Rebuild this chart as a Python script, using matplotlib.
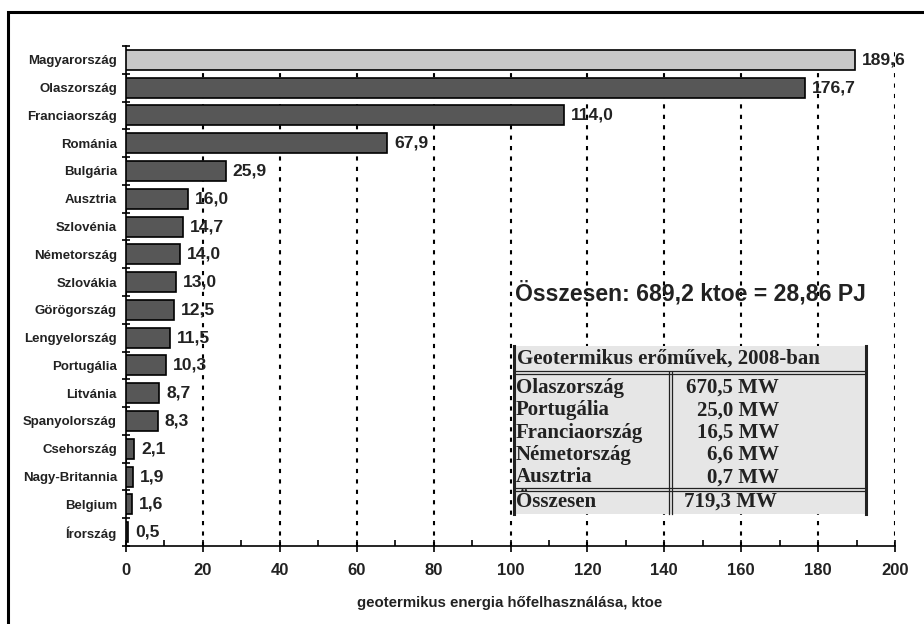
import matplotlib
matplotlib.use('Agg')
import numpy as np
import matplotlib.pyplot as plt
from matplotlib.patches import Rectangle
from matplotlib.ticker import MultipleLocator, FixedLocator

# country values, ktoe
countries = ['Magyarország', 'Olaszország', 'Franciaország', 'Románia', 'Bulgária',
             'Ausztria', 'Szlovénia', 'Németország', 'Szlovákia', 'Görögország',
             'Lengyelország', 'Portugália', 'Litvánia', 'Spanyolország', 'Csehország',
             'Nagy-Britannia', 'Belgium', 'Írország']
values = [189.6, 176.7, 114.0, 67.9, 25.9, 16.0, 14.7, 14.0, 13.0, 12.5,
          11.5, 10.3, 8.7, 8.3, 2.1, 1.9, 1.6, 0.5]

# power plant table
plant_title = 'Geotermikus erőművek, 2008-ban'
plant_names = ['Olaszország', 'Portugália', 'Franciaország', 'Németország', 'Ausztria']
plant_mw = ['670,5 MW', '25,0 MW', '16,5 MW', '6,6 MW', '0,7 MW']
plant_total = ('Összesen', '719,3 MW')

total_text = 'Összesen: 689,2 ktoe = 28,86 PJ'
xlabel = 'geotermikus energia hőfelhasználása, ktoe'

plt.rcParams['font.family'] = ['Liberation Sans', 'DejaVu Sans']

W, H = 924, 624
fig = plt.figure(figsize=(W / 100, H / 100), dpi=100)
ax = fig.add_axes([126 / W, 1 - 546 / H, (895 - 126) / W, (546 - 46) / H])

ypos = np.arange(len(countries))
colors = ['#c8c8c8'] + ['#575757'] * (len(countries) - 1)
ax.barh(ypos, values, height=0.72, color=colors, edgecolor='black', linewidth=1.2, zorder=3)

for y, v in zip(ypos, values):
    ax.annotate(f'{v:.1f}'.replace('.', ','), (v, y), xytext=(5, 0), textcoords='offset points',
                va='center', ha='left', fontsize=12.6, fontweight='bold', color='#222222', zorder=4)

ax.set_xlim(0, 200)
ax.set_ylim(len(countries) - 0.5, -0.5)
ax.xaxis.set_major_locator(MultipleLocator(20))
ax.xaxis.set_minor_locator(MultipleLocator(10))
ax.set_yticks(ypos)
ax.set_yticklabels(countries, fontsize=9.5, fontweight='bold', color='#222222')
ax.yaxis.set_minor_locator(FixedLocator(np.arange(-0.5, len(countries), 1.0)))
ax.tick_params(axis='y', which='major', length=0, pad=6.5)
ax.tick_params(axis='y', which='minor', direction='inout', length=6, width=1.2)
ax.tick_params(axis='x', which='major', direction='inout', length=8, width=1.2, pad=8,
               labelsize=12)
ax.tick_params(axis='x', which='minor', direction='in', length=4, width=1.2)
for lab in ax.get_xticklabels():
    lab.set_fontweight('bold')
    lab.set_color('#222222')

ax.grid(axis='x', which='major', color='black', linestyle=(0, (2, 3)), linewidth=1.5, zorder=1)
for s in ['top', 'right']:
    ax.spines[s].set_visible(False)
ax.spines['left'].set_linewidth(1.2)
ax.spines['bottom'].set_linewidth(1.2)

fig.text(510 / W, 1 - 603 / H, xlabel, ha='center', va='center', fontsize=10.8,
         fontweight='bold', color='#222222')

fig.text(515 / W, 1 - 293 / H, total_text, ha='left', va='center', fontsize=16.6,
         fontweight='bold', color='#222222', zorder=5)

# table drawn in figure pixel coords
def fx(px):
    return px / W

def fy(py):
    return 1 - py / H

tl, tr, tt, tb = 514, 866, 346, 514
fig.patches.append(Rectangle((fx(tl), fy(tb)), fx(tr) - fx(tl), fy(tt) - fy(tb),
                             transform=fig.transFigure, facecolor='#e6e6e6',
                             edgecolor='none', zorder=5))
line_kw = dict(transform=fig.transFigure, color='#222222', zorder=6)
fig.add_artist(plt.Line2D([fx(tl), fx(tl)], [fy(tt), fy(tb)], linewidth=2.2, **line_kw))
fig.add_artist(plt.Line2D([fx(tr), fx(tr)], [fy(tt), fy(tb)], linewidth=2.2, **line_kw))
for yy in [370.5, 373.5, 487.5, 490.5]:
    fig.add_artist(plt.Line2D([fx(tl), fx(tr)], [fy(yy), fy(yy)], linewidth=0.9, **line_kw))
for xx in [669, 672]:
    fig.add_artist(plt.Line2D([fx(xx), fx(xx)], [fy(372), fy(tb)], linewidth=0.9, **line_kw))

serif = dict(family=['Liberation Serif', 'DejaVu Serif'], fontweight='bold',
             fontsize=15, color='#222222', zorder=7, va='center')
fig.text(fx(517), fy(359), plant_title, ha='left', **serif)
for i, (n, mw) in enumerate(zip(plant_names, plant_mw)):
    yy = 388 + i * 22.3
    fig.text(fx(516), fy(yy), n, ha='left', **serif)
    fig.text(fx(779), fy(yy), mw, ha='right', **serif)
fig.text(fx(516), fy(502), plant_total[0], ha='left', **serif)
fig.text(fx(777), fy(502), plant_total[1], ha='right', **serif)

# outer frame
fig.patches.append(Rectangle((fx(8), -0.1), 1.2, fy(12) + 0.1, transform=fig.transFigure,
                             facecolor='none', edgecolor='black', linewidth=2.2, zorder=10))

fig.savefig('out.png', dpi=100)
